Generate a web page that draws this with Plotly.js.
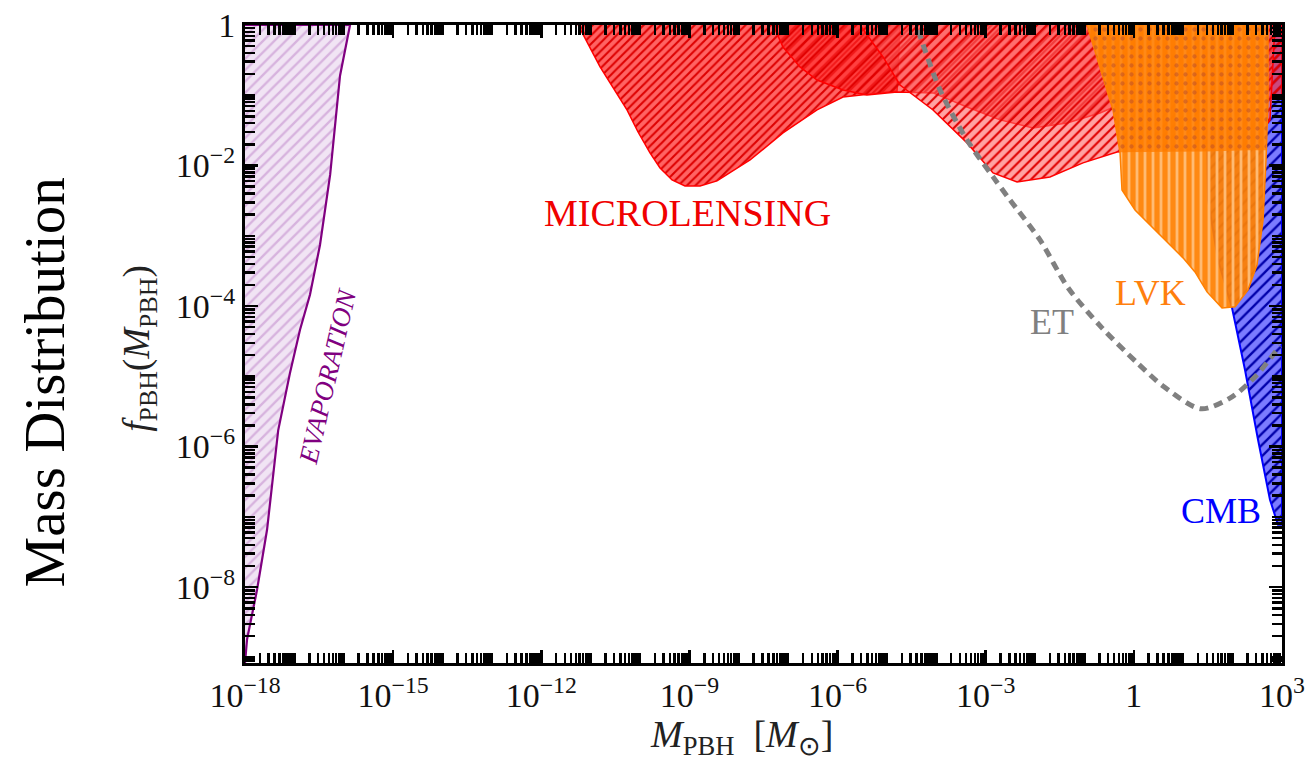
<!DOCTYPE html>
<html>
<head>
<meta charset="utf-8">
<script src="https://cdn.plot.ly/plotly-3.0.1.min.js"></script>
<style>html,body{margin:0;padding:0;background:#fff;}#chart{width:1307px;height:777px;}</style>
</head>
<body>
<div id="chart"></div>
<script>
// ---- data ----
// Evaporation bound (boundary curve, closed along the left / top axis)
const evapM = [1.0e-18, 1.1e-18, 1.75e-18, 2.8e-18, 4.7e-18, 8.1e-18, 1.3e-17, 2.07e-17, 3.3e-17, 5.3e-17, 8.4e-17, 1.34e-16, 1.0e-18];
const evapF = [8.3e-10, 1.8e-9, 9.1e-9, 6.6e-8, 1.7e-6, 1.1e-5, 4.6e-5, 1.45e-4, 7.4e-4, 7.4e-3, 0.19, 1, 1];

// Microlensing bounds (three overlapping regions)
const lensAM = [5.55e-12, 1.55e-11, 5.44e-11, 9.1e-11, 1.59e-10, 2.54e-10, 4.44e-10, 8.13e-10, 1.64e-9, 3.62e-9, 1.69e-8, 7.85e-8, 3.84e-7, 1.29e-6, 4.54e-6, 1.6e-5, 1.84e-5];
const lensAF = [1, 0.253, 0.0618, 0.030, 0.0151, 0.00924, 0.00624, 0.00513, 0.00513, 0.00604, 0.012, 0.0291, 0.0618, 0.0946, 0.1045, 0.115, 1];

const lensBM = [4.92e-8, 7.85e-8, 1.73e-7, 3.84e-7, 1.29e-6, 3.94e-6, 1.6e-5, 8.57e-5, 4.18e-4, 1.95e-3, 9.08e-3, 0.0443, 0.2065, 0.836, 3.39, 55.6, 1000, 1000];
const lensBF = [1, 0.486, 0.253, 0.165, 0.119, 0.101, 0.111, 0.108, 0.0682, 0.0446, 0.0343, 0.0404, 0.056, 0.0857, 0.0946, 0.0946, 0.0946, 1];

const lensCM = [2.84e-6, 8.32e-6, 1.84e-5, 8.57e-5, 4.18e-4, 1.41e-3, 4.31e-3, 0.02, 0.0933, 0.456, 2.12, 21.9, 225, 571, 722];
const lensCF = [1, 0.351, 0.140, 0.0618, 0.0210, 7.85e-3, 5.85e-3, 6.89e-3, 0.0109, 0.0156, 0.0167, 0.0167, 0.0178, 0.0446, 1];

// LVK bound
const lvkM = [0.1125, 0.2065, 0.378, 0.525, 0.575, 1.055, 3.39, 9.89, 17.3, 30.3, 61, 112, 205, 312, 413, 475, 521, 521];
const lvkF = [1, 0.253, 0.0618, 0.0151, 4.5e-3, 2.33e-3, 1.03e-3, 4.85e-4, 3.06e-4, 1.59e-4, 9.42e-5, 9.75e-5, 1.70e-4, 3.86e-4, 1.68e-3, 0.012, 0.0857, 1];
// LVK upper part (overlapping the microlensing bound)
const lvkTopM = [0.1125, 0.2065, 0.378, 0.525, 3.39, 30.3, 205, 475, 521, 521];
const lvkTopF = [1, 0.253, 0.0618, 0.0155, 0.0155, 0.0158, 0.0165, 0.0165, 0.0857, 1];

// CMB bound
const cmbM = [28.9, 31.8, 50.6, 97.2, 178, 327, 571, 830, 1000, 1000];
const cmbF = [1, 3.24e-3, 4.54e-4, 9.42e-5, 1.24e-5, 1.25e-6, 1.75e-7, 7.73e-8, 7.73e-8, 1];

// Einstein Telescope projected sensitivity
const etM = [4.26e-5, 1.19e-4, 4.18e-4, 1.41e-3, 3.1e-3, 0.01256, 0.0465, 0.226, 1.16, 4.08, 22.9, 97.2, 298, 912];
const etF = [0.85, 0.119, 0.0231, 6.89e-3, 3.24e-3, 8.75e-4, 1.82e-4, 4.9e-5, 1.56e-5, 7.1e-6, 3.45e-6, 5.1e-6, 1.02e-5, 2.72e-5];

// tick labels
const xLabelExp = [-18, -15, -12, -9, -6, -3, 0, 3];
const xLabelText = ['10<sup>−18</sup>', '10<sup>−15</sup>', '10<sup>−12</sup>', '10<sup>−9</sup>', '10<sup>−6</sup>', '10<sup>−3</sup>', '1', '10<sup>3</sup>'];
const yLabelExp = [0, -2, -4, -6, -8];
const yLabelText = ['1', '10<sup>−2</sup>', '10<sup>−4</sup>', '10<sup>−6</sup>', '10<sup>−8</sup>'];

// region labels
const labels = [
  {text: 'MICROLENSING', color: '#f00000', lx: -9.03, ly: -2.67, angle: 0, italic: false, size: 38},
  {text: 'EVAPORATION', color: '#800080', lx: -16.32, ly: -5.0, angle: -77, italic: true, size: 27},
  {text: 'ET', color: '#808080', lx: -1.66, ly: -4.22, angle: 0, italic: false, size: 36},
  {text: 'LVK', color: '#ff7f0e', lx: 0.33, ly: -3.81, angle: 0, italic: false, size: 36},
  {text: 'CMB', color: '#0000ff', lx: 1.76, ly: -6.91, angle: 0, italic: false, size: 36}
];

// ---- ticks (positions only): labelled decades are major, everything else minor ----
function logTicks(lo, hi, labExp, labText) {
  const vals = [], text = [], minor = [];
  for (let n = lo; n <= hi; n++) {
    const i = labExp.indexOf(n);
    if (i >= 0) { vals.push(Number('1e' + n)); text.push(labText[i]); }
    else minor.push(Number('1e' + n));
    if (n < hi) for (let k = 2; k <= 9; k++) minor.push(Number(k + 'e' + n));
  }
  return {vals, text, minor};
}
const xt = logTicks(-18, 3, xLabelExp, xLabelText);
const yt = logTicks(-10, 0, yLabelExp, yLabelText);

const FONT = 'Liberation Serif, Times New Roman, serif';

function region(xs, ys, line, bg, fg, shape, size, sol, lw) {
  return {
    x: xs, y: ys, type: 'scatter', mode: 'lines', fill: 'toself',
    line: {color: line, width: lw}, fillcolor: bg,
    fillpattern: {shape: shape, bgcolor: bg, fgcolor: fg, size: size, solidity: sol},
    hoverinfo: 'skip', showlegend: false
  };
}

const traces = [
  region(evapM, evapF, '#800080', 'rgba(225,195,232,0.45)', 'rgba(190,130,200,0.5)', '/', 8, 0.3, 2.2),
  region(cmbM, cmbF, '#0000ff', 'rgba(100,100,255,0.85)', '#0000aa', '/', 8, 0.3, 2),
  region(lensAM, lensAF, '#ff0000', 'rgba(255,60,60,0.8)', '#dd0000', '/', 6, 0.35, 1.5),
  region(lensBM, lensBF, '#ff0000', 'rgba(255,40,40,0.6)', '#e00000', '/', 8, 0.3, 1.5),
  region(lensCM, lensCF, '#ff0000', 'rgba(255,100,100,0.6)', '#e00000', '/', 7, 0.3, 1.5),
  region(lvkM, lvkF, '#ff8000', 'rgba(255,128,0,0.93)', 'rgba(255,190,120,0.95)', '|', 8, 0.35, 1.5),
  region(lvkTopM, lvkTopF, 'rgba(255,128,0,0)', 'rgba(255,125,0,0.8)', 'rgba(190,80,40,0.55)', '.', 9, 0.18, 0),
  {x: etM, y: etF, type: 'scatter', mode: 'lines',
   line: {color: '#808080', width: 5, dash: '9px,6px', shape: 'spline', smoothing: 0.8},
   hoverinfo: 'skip', showlegend: false}
];

const annotations = labels.map(l => ({
  x: l.lx, y: l.ly, xref: 'x', yref: 'y', showarrow: false,
  text: l.italic ? '<i>' + l.text + '</i>' : l.text,
  textangle: l.angle,
  font: {family: FONT, size: l.size, color: l.color}
}));
// axis titles and outer row title
annotations.push(
  {x: 0.479, y: -0.116, xref: 'paper', yref: 'paper', showarrow: false, xanchor: 'center', yanchor: 'middle',
   text: '<i>M</i><sub>PBH</sub>  [<i>M</i><sub>⊙</sub>]', font: {family: FONT, size: 38, color: '#222'}},
  {x: -0.1013, y: 0.494, xref: 'paper', yref: 'paper', showarrow: false, xanchor: 'center', yanchor: 'middle', textangle: -90,
   text: '<i>f</i><sub>PBH</sub>(<i>M</i><sub>PBH</sub>)', font: {family: FONT, size: 37, color: '#222'}},
  {x: -0.226, y: 0.44, xref: 'paper', yref: 'paper', showarrow: false, textangle: -90,
   text: 'Mass Distribution', font: {family: FONT, size: 57, color: '#000'}}
);

const axisCommon = {
  type: 'log', showgrid: false, zeroline: false,
  showline: true, linewidth: 3, linecolor: '#000', mirror: 'allticks',
  ticks: 'inside', ticklen: 13, tickwidth: 2.5, tickcolor: '#000',
  tickmode: 'array',
  tickfont: {family: FONT, size: 34, color: '#111'}
};

const layout = {
  width: 1307, height: 777,
  margin: {l: 245, r: 25, t: 25, b: 114},
  paper_bgcolor: '#fff', plot_bgcolor: '#fff',
  showlegend: false,
  xaxis: Object.assign({}, axisCommon, {
    range: [-18, 3],
    tickvals: xt.vals, ticktext: xt.text,
    minor: {tickmode: 'array', tickvals: xt.minor, ticks: 'inside', ticklen: 10, tickwidth: 2.5, tickcolor: '#000'}
  }),
  yaxis: Object.assign({}, axisCommon, {
    range: [-9.08, 0],
    tickvals: yt.vals, ticktext: yt.text,
    minor: {tickmode: 'array', tickvals: yt.minor, ticks: 'inside', ticklen: 10, tickwidth: 2.5, tickcolor: '#000'}
  }),
  annotations: annotations
};

Plotly.newPlot('chart', traces, layout, {displayModeBar: false, staticPlot: true});
</script>
</body>
</html>
